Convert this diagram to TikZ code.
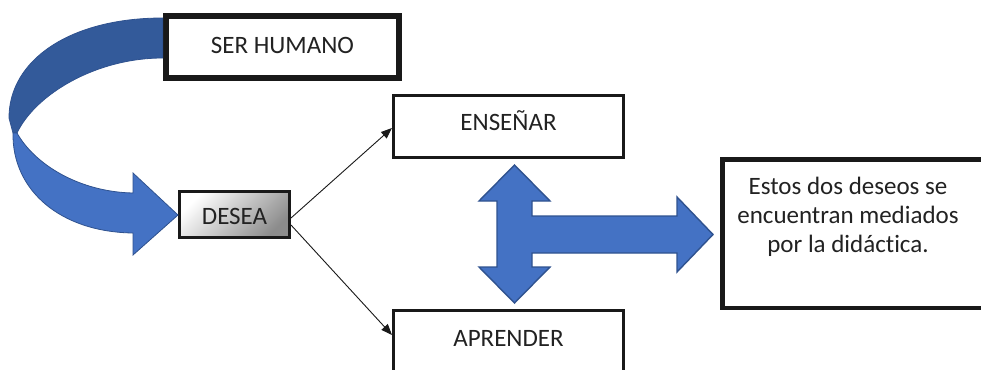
\documentclass[tikz,border=0pt]{standalone}
\usepackage{fontspec}
\setmainfont{Carlito}[Ligatures={NoCommon}]
\usetikzlibrary{arrows.meta,calc}
\definecolor{ribbondark}{HTML}{335A9A}
\definecolor{ribbonlight}{HTML}{4472C4}
\definecolor{ribbonedge}{HTML}{2F528F}
\definecolor{inktext}{HTML}{222222}
\tikzset{
  box/.style={draw=black!90, fill=white, text=inktext, inner sep=0pt,
    font=\fontsize{25}{29.5}\selectfont},
  capbox/.style={box, line width=3pt, minimum width=230pt, minimum height=62pt,
    text height=16pt, text depth=9pt},
  link/.style={draw=black!90, line width=0.9pt, -{Triangle[length=11pt,width=8.5pt]}},
  bluearrow/.style={fill=ribbonlight, draw=ribbonedge, line width=1.4pt, line join=miter},
}
\begin{document}
\begin{tikzpicture}[x=1pt,y=-1pt]
\useasboundingbox (0,0) rectangle (981,369);
\clip (0,0) rectangle (981,369);
\fill[white] (0,0) rectangle (981,369);

% boxes
\node[box, line width=6.5pt, minimum width=233pt, minimum height=62pt,
      text height=16pt, text depth=4pt] (ser) at (282.5,47) {SER HUMANO};
\node[capbox] (ense) at (508.5,126.5) {ENSEÑAR};
\node[capbox, minimum height=64pt] (apre) at (508.5,342.5) {APRENDER};
\node[box, line width=3pt, minimum width=110pt, minimum height=46pt,
      text height=20pt, text depth=0pt,
      shading=axis, top color=white, bottom color=black!45, shading angle=45] (desea) at (234.5,214.5) {DESEA};
\node[box, line width=4.5pt, minimum width=300pt, minimum height=148.5pt,
      anchor=north west] (medbox) at (720,157) {};
\node[text=inktext, align=center, inner sep=0pt,
      font=\fontsize{25}{29}\selectfont] (medtext) at (848,216.5)
      {Estos dos deseos se\\encuentran mediados\\por la didáctica.};

% curved ribbon arrow from SER HUMANO down to DESEA
\fill[ribbondark, draw=ribbonedge, line width=0.8pt]
  (ser.west |- 0,18) .. controls (70,18) and (9,60) .. (9,118)
  -- (13,133) -- (17,133)
  .. controls (35,95) and (95,58) .. (ser.west |- 0,58) -- cycle;
\fill[ribbonlight, draw=ribbonedge, line width=0.8pt]
  (13,133) .. controls (12,190) and (60,232) .. (133,233)
  -- (133,255) -- (desea.west |- 0,215) -- (133,173) -- (133,193)
  .. controls (80,192) and (35,165) .. (17,133) -- cycle;

% links from DESEA
\draw[link] ([yshift=-3.5pt]desea.east) -- ([yshift=-1.5pt]ense.west);
\draw[link] ([yshift=-10.5pt]desea.east) -- ([yshift=7.5pt]apre.west);

% three-way block arrow
\draw[bluearrow]
  (514.5,165) -- (550,201) -- (532,201) -- (532,216) -- (677,216) -- (677,197)
  -- (713,234.5) -- (677,272) -- (677,253) -- (532,253) -- (532,267) -- (550,267)
  -- (514.5,303) -- (479,267) -- (497,267) -- (497,201) -- (479,201) -- cycle;
\end{tikzpicture}
\end{document}
